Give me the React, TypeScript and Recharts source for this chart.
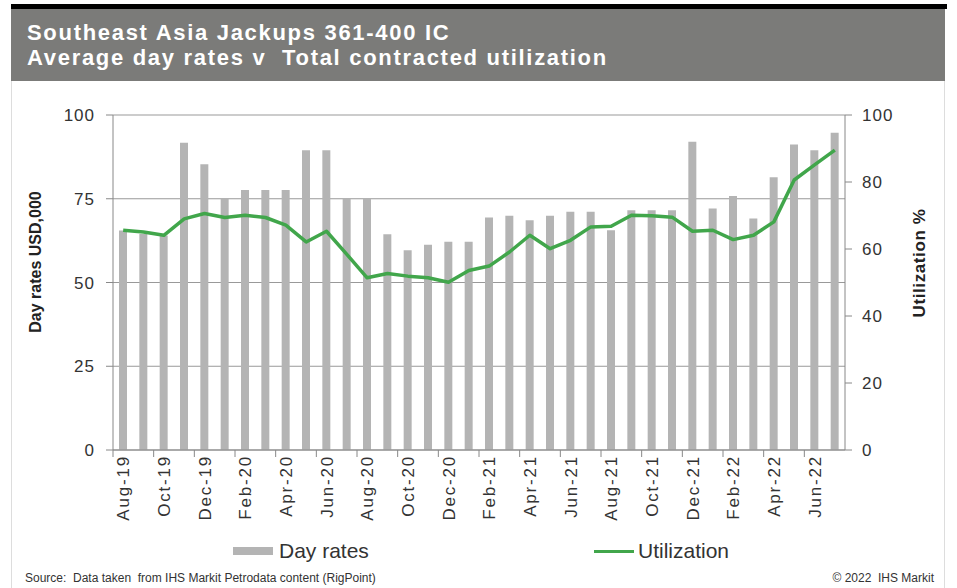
import { ComposedChart, Bar, Line, XAxis, YAxis, CartesianGrid } from 'recharts'

// monthly, Aug-19 .. Jul-22
const months = [
  'Aug-19', 'Sep-19', 'Oct-19', 'Nov-19', 'Dec-19', 'Jan-20', 'Feb-20', 'Mar-20', 'Apr-20',
  'May-20', 'Jun-20', 'Jul-20', 'Aug-20', 'Sep-20', 'Oct-20', 'Nov-20', 'Dec-20', 'Jan-21',
  'Feb-21', 'Mar-21', 'Apr-21', 'May-21', 'Jun-21', 'Jul-21', 'Aug-21', 'Sep-21', 'Oct-21',
  'Nov-21', 'Dec-21', 'Jan-22', 'Feb-22', 'Mar-22', 'Apr-22', 'May-22', 'Jun-22', 'Jul-22',
]

// average day rates, USD,000
const dayRates = [
  65.5, 64.5, 64, 91.7, 85.3, 75, 77.6, 77.6, 77.6,
  89.5, 89.5, 75, 75, 64.4, 59.6, 61.3, 62.2, 62.2,
  69.4, 69.9, 68.6, 69.9, 71.1, 71.1, 65.6, 71.6, 71.6,
  71.6, 92, 72.1, 75.8, 69.1, 81.4, 91.2, 89.5, 94.7,
]

// total contracted utilization, %
const utilization = [
  65.6, 65.1, 64.1, 69, 70.6, 69.4, 70.1, 69.4, 67.1,
  62.1, 65.3, 58.4, 51.4, 52.7, 51.9, 51.4, 50.1, 53.6,
  54.9, 59.1, 64.1, 60.1, 62.6, 66.6, 66.8, 70.1, 69.9,
  69.5, 65.3, 65.6, 62.8, 64.1, 68.1, 80.6, 85.1, 89.5,
]

const leftTicks = [0, 25, 50, 75, 100]
const rightTicks = [0, 20, 40, 60, 80, 100]

const data = months.map((m, i) => ({ month: m, rate: dayRates[i], util: utilization[i] }))

const FONT = 'Arial, "Liberation Sans", sans-serif'
const PLOT_LEFT = 113
const PLOT_RIGHT = 845
const BAND = (PLOT_RIGHT - PLOT_LEFT) / months.length

const MonthTick = ({ x, y, payload }: any) => (
  <g>
    <line x1={x - BAND / 2} y1={y - 8} x2={x - BAND / 2} y2={y - 1} stroke="#888" />
    <text
      x={0} y={0}
      transform={`translate(${x + 6},${y - 3}) rotate(-90)`}
      textAnchor="end"
      fill="#333"
      fontSize={17}
      letterSpacing={1.8}
      fontFamily={FONT}
    >
      {payload.value}
    </text>
  </g>
)

export default function App() {
  return (
    <div style={{ position: 'absolute', left: 0, top: 0, width: 957, height: 588, background: '#fff', fontFamily: FONT, overflow: 'hidden' }}>
      <div style={{ position: 'absolute', left: 11, top: 4, width: 936, height: 5, background: '#000' }} />
      <div style={{ position: 'absolute', left: 11, top: 9, width: 934, height: 72, background: '#7b7b79' }} />
      <div style={{ position: 'absolute', left: 11, top: 81, width: 932, height: 507, borderLeft: '1px solid #ddd', borderRight: '1px solid #ddd' }} />
      <div style={{ position: 'absolute', left: 27, top: 20, color: '#fff', fontWeight: 'bold', fontSize: 22, lineHeight: '25px', letterSpacing: 1.7, whiteSpace: 'nowrap' }}>
        <div>Southeast Asia Jackups 361-400 IC</div>
        <div>Average day rates v&nbsp; Total contracted utilization</div>
      </div>

      <div style={{ position: 'absolute', left: 0, top: 0 }}>
        <ComposedChart
          width={957} height={588} data={data}
          margin={{ top: 115, right: 52, left: 53, bottom: 58 }}
        >
          <CartesianGrid yAxisId="left" vertical={false} stroke="#999" />
          <XAxis
            dataKey="month" interval={1} height={80}
            axisLine={{ stroke: '#888' }} tickLine={false}
            tick={<MonthTick />}
          />
          <YAxis
            yAxisId="left" orientation="left" width={60}
            domain={[0, 100]} ticks={leftTicks}
            axisLine={{ stroke: '#888' }} tickLine={{ stroke: '#888' }}
            tickSize={7} tickMargin={11}
            tick={{ fill: '#333', fontSize: 17, fontFamily: FONT, letterSpacing: 1 }}
          />
          <YAxis
            yAxisId="right" orientation="right" width={60}
            domain={[0, 100]} ticks={rightTicks}
            axisLine={{ stroke: '#888' }} tickLine={{ stroke: '#888' }}
            tickSize={7} tickMargin={10}
            tick={{ fill: '#333', fontSize: 17, fontFamily: FONT, letterSpacing: 1 }}
          />
          <Bar yAxisId="left" dataKey="rate" fill="#b4b4b4" barSize={8} isAnimationActive={false} name="Day rates" />
          <Line
            yAxisId="right" dataKey="util" type="linear" stroke="#41a64b"
            strokeWidth={3.5} strokeLinejoin="round" dot={false} isAnimationActive={false} name="Utilization"
          />
        </ComposedChart>
      </div>

      <div style={{ position: 'absolute', left: 36, top: 262, transform: 'translate(-50%,-50%) rotate(-90deg)', whiteSpace: 'nowrap', fontWeight: 'bold', fontSize: 16, color: '#222' }}>
        Day rates USD,000
      </div>
      <div style={{ position: 'absolute', left: 920, top: 263, transform: 'translate(-50%,-50%) rotate(-90deg)', whiteSpace: 'nowrap', fontWeight: 'bold', fontSize: 17, letterSpacing: 0.6, color: '#222' }}>
        Utilization %
      </div>

      <div style={{ position: 'absolute', left: 233, top: 539, display: 'flex', alignItems: 'center', fontSize: 21, color: '#333' }}>
        <span style={{ display: 'inline-block', width: 40, height: 8, background: '#b4b4b4', marginRight: 6 }} />
        Day rates
      </div>
      <div style={{ position: 'absolute', left: 594, top: 539, display: 'flex', alignItems: 'center', fontSize: 21, color: '#333' }}>
        <span style={{ display: 'inline-block', width: 40, height: 3, background: '#41a64b', marginRight: 4 }} />
        Utilization
      </div>

      <div style={{ position: 'absolute', left: 25, top: 571, fontSize: 12, color: '#333', whiteSpace: 'nowrap' }}>
        Source:&nbsp; Data taken&nbsp; from IHS Markit Petrodata content (RigPoint)
      </div>
      <div style={{ position: 'absolute', right: 23, top: 571, fontSize: 12, color: '#333', whiteSpace: 'nowrap' }}>
        © 2022&nbsp; IHS Markit
      </div>
    </div>
  )
}
